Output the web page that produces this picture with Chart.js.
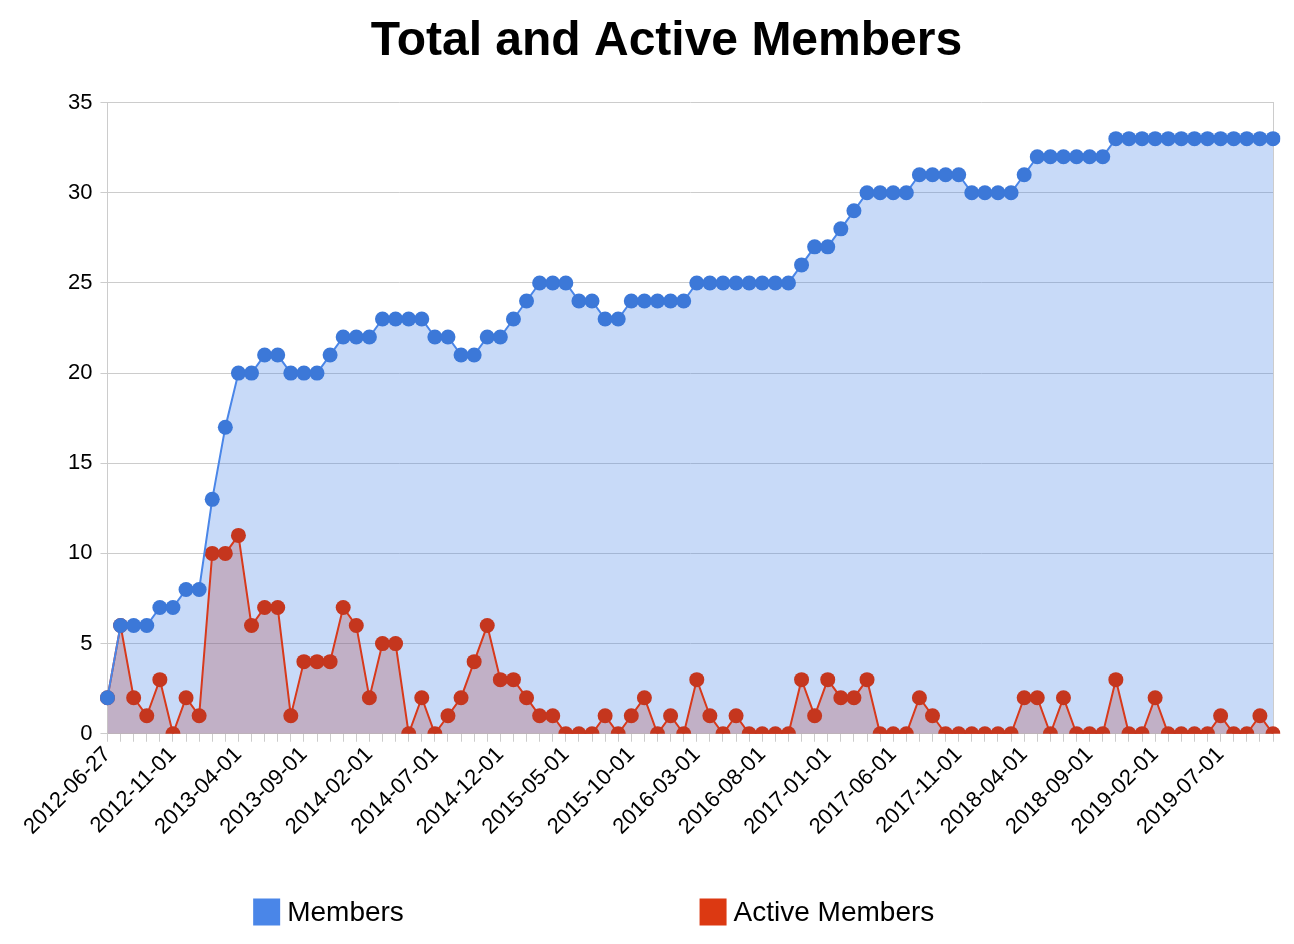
<!DOCTYPE html>
<html>
<head>
<meta charset="utf-8">
<title>Total and Active Members</title>
<script src="https://cdn.jsdelivr.net/npm/chart.js@4.4.1/dist/chart.umd.min.js"></script>
<style>
  html, body { margin: 0; padding: 0; background: #fff; }
  #wrap { width: 1294px; height: 944px; }
</style>
</head>
<body>
<div id="wrap"><canvas id="members-chart" width="1294" height="944"></canvas></div>
<script>
/* Chart data, one entry per month */
let months = [
    '2012-06-27', '2012-07-01', '2012-08-01', '2012-09-01', '2012-10-01', '2012-11-01', '2012-12-01',
    '2013-01-01', '2013-02-01', '2013-03-01', '2013-04-01', '2013-05-01', '2013-06-01',
    '2013-07-01', '2013-08-01', '2013-09-01', '2013-10-01', '2013-11-01', '2013-12-01',
    '2014-01-01', '2014-02-01', '2014-03-01', '2014-04-01', '2014-05-01', '2014-06-01',
    '2014-07-01', '2014-08-01', '2014-09-01', '2014-10-01', '2014-11-01', '2014-12-01',
    '2015-01-01', '2015-02-01', '2015-03-01', '2015-04-01', '2015-05-01', '2015-06-01',
    '2015-07-01', '2015-08-01', '2015-09-01', '2015-10-01', '2015-11-01', '2015-12-01',
    '2016-01-01', '2016-02-01', '2016-03-01', '2016-04-01', '2016-05-01', '2016-06-01',
    '2016-07-01', '2016-08-01', '2016-09-01', '2016-10-01', '2016-11-01', '2016-12-01',
    '2017-01-01', '2017-02-01', '2017-03-01', '2017-04-01', '2017-05-01', '2017-06-01',
    '2017-07-01', '2017-08-01', '2017-09-01', '2017-10-01', '2017-11-01', '2017-12-01',
    '2018-01-01', '2018-02-01', '2018-03-01', '2018-04-01', '2018-05-01', '2018-06-01',
    '2018-07-01', '2018-08-01', '2018-09-01', '2018-10-01', '2018-11-01', '2018-12-01',
    '2019-01-01', '2019-02-01', '2019-03-01', '2019-04-01', '2019-05-01', '2019-06-01',
    '2019-07-01', '2019-08-01', '2019-09-01', '2019-10-01', '2019-11-01'
]

let members = [
    2, 6, 6, 6, 7, 7, 8, 8, 13, 17,
    20, 20, 21, 21, 20, 20, 20, 21, 22, 22,
    22, 23, 23, 23, 23, 22, 22, 21, 21, 22,
    22, 23, 24, 25, 25, 25, 24, 24, 23, 23,
    24, 24, 24, 24, 24, 25, 25, 25, 25, 25,
    25, 25, 25, 26, 27, 27, 28, 29, 30, 30,
    30, 30, 31, 31, 31, 31, 30, 30, 30, 30,
    31, 32, 32, 32, 32, 32, 32, 33, 33, 33,
    33, 33, 33, 33, 33, 33, 33, 33, 33, 33
]

let activeMembers = [
    2, 6, 2, 1, 3, 0, 2, 1, 10, 10,
    11, 6, 7, 7, 1, 4, 4, 4, 7, 6,
    2, 5, 5, 0, 2, 0, 1, 2, 4, 6,
    3, 3, 2, 1, 1, 0, 0, 0, 1, 0,
    1, 2, 0, 1, 0, 3, 1, 0, 1, 0,
    0, 0, 0, 3, 1, 3, 2, 2, 3, 0,
    0, 0, 2, 1, 0, 0, 0, 0, 0, 0,
    2, 2, 0, 2, 0, 0, 0, 3, 0, 0,
    2, 0, 0, 0, 0, 1, 0, 0, 1, 0
]

let seriesNames = ['Members', 'Active Members']
let yTicks = { min: 0, max: 35, step: 5 }
let labelEvery = 5

/* Colors */
let blueLine = '#4a86e8'
let bluePoint = '#3c78d8'
let blueFill = 'rgba(74, 134, 232, 0.3)'
let redLine = '#d8391b'
let redPoint = '#c5361e'
let redFill = 'rgba(220, 57, 18, 0.3)'
let legendColors = ['#4a86e8', '#dc3912']
let gridColor = '#cccccc'
let fontFamily = '"Liberation Sans", Arial, sans-serif'

// legend drawn under the axis labels, two items spread out like the original
let bottomLegend = {
    id: 'bottomLegend',
    afterDraw(chart) {
        let ctx = chart.ctx
        let area = chart.chartArea
        let box = 27
        let y = chart.height - 32
        let starts = [area.left + area.width * 0.125, area.left + area.width * 0.508]
        ctx.save()
        ctx.font = '28px ' + fontFamily
        ctx.textBaseline = 'middle'
        ctx.textAlign = 'left'
        seriesNames.forEach(function(name, i) {
            let x = starts[i]
            ctx.fillStyle = legendColors[i]
            ctx.fillRect(x, y - box / 2, box, box)
            ctx.fillStyle = '#000'
            ctx.fillText(name, x + box + 7, y + 1)
        })
        ctx.restore()
    }
}

let ctx = document.querySelector('#members-chart').getContext('2d')

let membersChart = new Chart(ctx, {
    type: 'line',
    data: {
        labels: months,
        datasets: [
            {
                label: seriesNames[0],
                data: members,
                borderColor: blueLine,
                borderWidth: 2,
                backgroundColor: blueFill,
                pointBackgroundColor: bluePoint,
                pointBorderColor: bluePoint,
                pointRadius: 7.5,
                pointBorderWidth: 0,
                fill: 'origin',
                tension: 0
            },
            {
                label: seriesNames[1],
                data: activeMembers,
                borderColor: redLine,
                borderWidth: 2,
                backgroundColor: redFill,
                pointBackgroundColor: redPoint,
                pointBorderColor: redPoint,
                pointRadius: 7.5,
                pointBorderWidth: 0,
                fill: 'origin',
                tension: 0
            }
        ]
    },
    options: {
        responsive: false,
        animation: false,
        layout: {
            padding: { left: 60, right: 21, top: 0, bottom: 104 }
        },
        plugins: {
            filler: { drawTime: 'beforeDatasetsDraw' },
            legend: { display: false },
            tooltip: { enabled: false },
            title: {
                display: true,
                text: 'Total and Active Members',
                color: '#000',
                font: { family: fontFamily, size: 48, weight: 'bold' },
                padding: { top: 13, bottom: 32 }
            }
        },
        scales: {
            x: {
                offset: false,
                grid: {
                    drawOnChartArea: false,
                    color: gridColor,
                    tickLength: 8
                },
                border: { color: gridColor },
                ticks: {
                    autoSkip: false,
                    maxRotation: 45,
                    minRotation: 45,
                    padding: 0,
                    color: '#000',
                    font: { family: fontFamily, size: 22 },
                    callback: function(value, index) {
                        return index % labelEvery === 0 ? months[index] : ''
                    }
                }
            },
            y: {
                min: yTicks.min,
                max: yTicks.max,
                grid: { color: gridColor, tickLength: 7 },
                border: { color: gridColor },
                ticks: {
                    stepSize: yTicks.step,
                    padding: 8,
                    color: '#000',
                    font: { family: fontFamily, size: 22 }
                }
            },
            yRight: {
                position: 'right',
                display: true,
                grid: { display: false, drawTicks: false },
                border: { display: true, color: gridColor },
                ticks: { display: false }
            }
        }
    },
    plugins: [bottomLegend]
})
</script>
</body>
</html>
